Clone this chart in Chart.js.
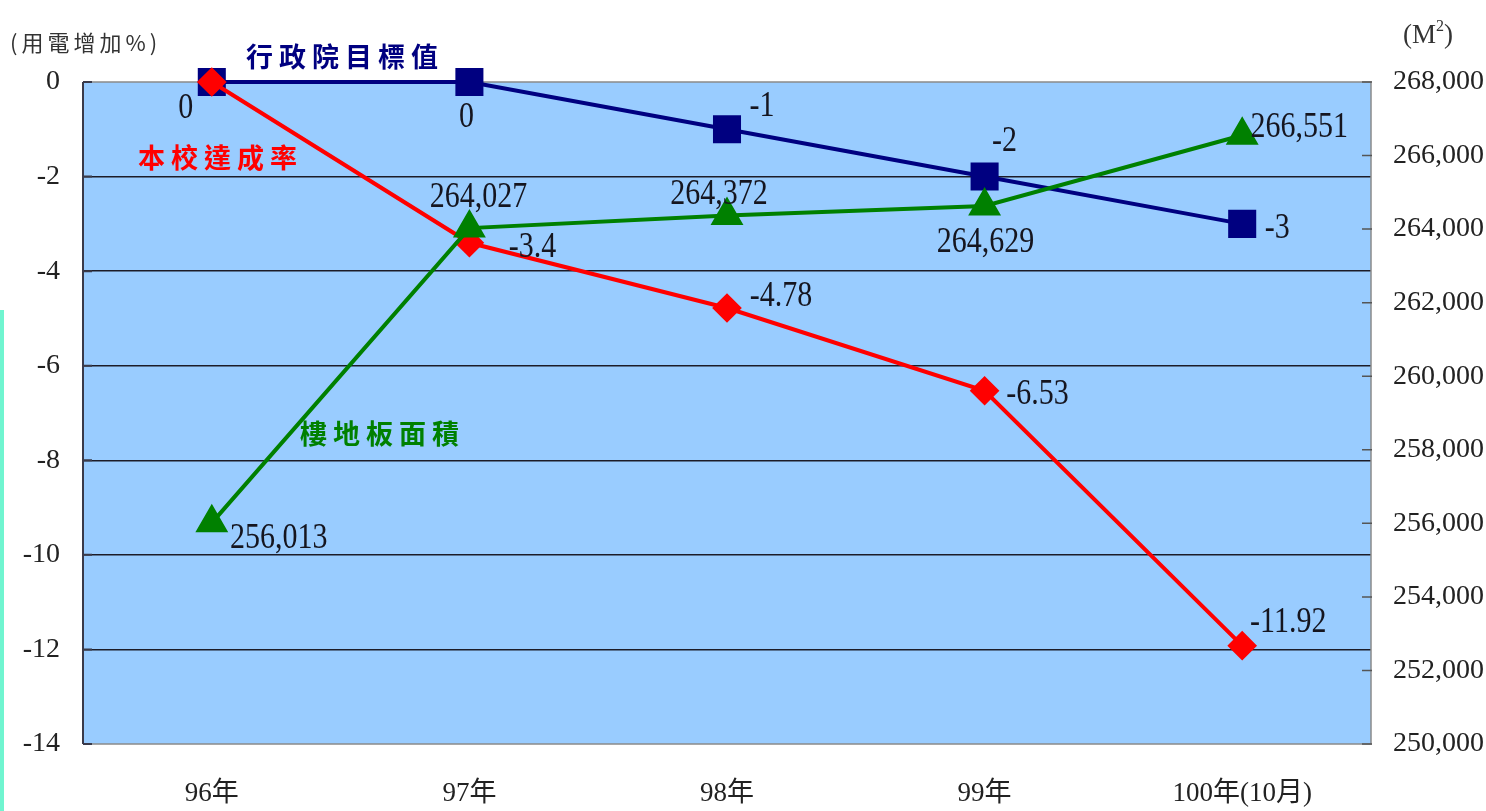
<!DOCTYPE html>
<html>
<head>
<meta charset="utf-8">
<script src="https://cdn.jsdelivr.net/npm/chart.js@4/dist/chart.umd.min.js"></script>
<style>
  html, body { margin: 0; padding: 0; background: #fff; }
  #wrap { position: relative; width: 1486px; height: 811px; }
</style>
</head>
<body>
<div id="wrap"><canvas id="electricChart"></canvas></div>
<script>
const categories = ["96年", "97年", "98年", "99年", "100年(10月)"];
const targetValues = [0, 0, -1, -2, -3];            // 行政院目標值
const schoolValues = [0, -3.4, -4.78, -6.53, -11.92]; // 本校達成率
const floorArea = [256013, 264027, 264372, 264629, 266551]; // 樓地板面積
const leftTicks = [0, -2, -4, -6, -8, -10, -12, -14];
const rightTicks = [250000, 252000, 254000, 256000, 258000, 260000, 262000, 264000, 266000, 268000];

// where each value label sits relative to its point (px)
const labelOffsets = {
  target: [[-26, 24], [-3, 33], [35, -25], [20, -38], [35, 2]],
  school: [null, [63, 2], [54, -14], [53, 1], [46, -26]],
  area: [[67, 13], [9, -33], [-8, -24], [1, 34], [57, -10]],
};

const serif = "'Liberation Serif', 'Noto Sans CJK TC', serif";
const cjk = "'Noto Sans CJK TC', sans-serif";

const formatNumber = (v) => v.toLocaleString("en-US");

const backgroundPlugin = {
  id: "plotBackground",
  beforeDraw(chart) {
    const { ctx, chartArea: a } = chart;
    ctx.save();
    ctx.fillStyle = "#99CCFF";
    ctx.fillRect(a.left, a.top, a.right - a.left, a.bottom - a.top);
    // aqua strip at the far left edge
    ctx.fillStyle = "#70F5D0";
    ctx.fillRect(0, 310, 4, chart.height - 310);
    ctx.restore();
  },
  beforeDatasetsDraw(chart) {
    const { ctx, chartArea: a, scales } = chart;
    ctx.save();
    ctx.strokeStyle = "#8a8a8a";
    ctx.lineWidth = 1.5;
    ctx.beginPath();
    ctx.moveTo(a.left, a.top);
    ctx.lineTo(a.right, a.top);
    ctx.lineTo(a.right, a.bottom);
    ctx.lineTo(a.left, a.bottom);
    ctx.stroke();
    ctx.strokeStyle = "#3a3a4a";
    ctx.lineWidth = 2;
    ctx.beginPath();
    ctx.moveTo(a.left, a.top);
    ctx.lineTo(a.left, a.bottom);
    // short inner tick marks on both value axes
    scales.y.ticks.forEach((t) => {
      const py = scales.y.getPixelForValue(t.value);
      ctx.moveTo(a.left, py);
      ctx.lineTo(a.left + 9, py);
    });
    ctx.stroke();
    ctx.strokeStyle = "#555";
    ctx.lineWidth = 1.5;
    ctx.beginPath();
    scales.yArea.ticks.forEach((t) => {
      const py = scales.yArea.getPixelForValue(t.value);
      ctx.moveTo(a.right - 9, py);
      ctx.lineTo(a.right + 1, py);
    });
    ctx.stroke();
    ctx.restore();
  },
};

const labelPlugin = {
  id: "valueLabels",
  afterDatasetsDraw(chart) {
    const { ctx } = chart;
    const keys = ["area", "school", "target"];
    ctx.save();
    ctx.fillStyle = "#15151f";
    ctx.font = "30px " + serif;
    ctx.textAlign = "center";
    ctx.textBaseline = "alphabetic";
    chart.data.datasets.forEach((ds, di) => {
      const meta = chart.getDatasetMeta(di);
      const offs = labelOffsets[keys[di]];
      meta.data.forEach((pt, i) => {
        if (!offs[i]) return;
        const text = di === 0 ? formatNumber(ds.data[i]) : String(ds.data[i]);
        ctx.save();
        ctx.translate(pt.x + offs[i][0], pt.y + offs[i][1]);
        ctx.scale(1, 1.22);
        ctx.fillText(text, 0, 10);
        ctx.restore();
      });
    });

    // series names written on the chart
    ctx.textAlign = "left";
    ctx.textBaseline = "middle";
    ctx.font = "bold 27px " + cjk;
    ctx.letterSpacing = "6px";
    ctx.fillStyle = "#000080";
    ctx.fillText("行政院目標值", 246, 57);
    ctx.fillStyle = "#FF0000";
    ctx.fillText("本校達成率", 138, 158);
    ctx.fillStyle = "#008000";
    ctx.fillText("樓地板面積", 300, 434);

    // axis unit captions
    ctx.fillStyle = "#333";
    ctx.font = "22px " + cjk;
    ctx.letterSpacing = "4px";
    ctx.fillText("(用電增加%)", 10, 43);
    ctx.letterSpacing = "0px";
    ctx.font = "27px " + serif;
    ctx.fillText("(M", 1403, 36);
    const mw = ctx.measureText("(M").width;
    ctx.font = "16px " + serif;
    ctx.fillText("2", 1403 + mw, 27);
    const sw = ctx.measureText("2").width;
    ctx.font = "27px " + serif;
    ctx.fillText(")", 1403 + mw + sw, 36);
    ctx.restore();
  },
};

new Chart(document.getElementById("electricChart").getContext("2d"), {
  type: "line",
  data: {
    labels: categories,
    datasets: [
      {
        label: "樓地板面積",
        data: floorArea,
        yAxisID: "yArea",
        borderColor: "#008000",
        backgroundColor: "#008000",
        borderWidth: 4,
        pointStyle: "triangle",
        pointRadius: 15,
        tension: 0,
        clip: false,
      },
      {
        label: "本校達成率",
        data: schoolValues,
        yAxisID: "y",
        borderColor: "#FF0000",
        backgroundColor: "#FF0000",
        borderWidth: 4,
        pointStyle: "rectRot",
        pointRadius: 12,
        tension: 0,
        clip: false,
      },
      {
        label: "行政院目標值",
        data: targetValues,
        yAxisID: "y",
        borderColor: "#000080",
        backgroundColor: "#000080",
        borderWidth: 4,
        pointStyle: "rect",
        pointRadius: 17,
        tension: 0,
        clip: false,
      },
    ],
  },
  options: {
    responsive: true,
    maintainAspectRatio: false,
    animation: false,
    events: [],
    layout: { padding: { top: 82, left: 0, right: 0, bottom: 0 } },
    plugins: {
      legend: { display: false },
      tooltip: { enabled: false },
    },
    scales: {
      x: {
        offset: true,
        grid: { display: false, drawTicks: false },
        border: { display: false },
        ticks: {
          color: "#222",
          font: { family: serif, size: 27 },
          padding: 34,
          maxRotation: 0,
        },
        afterFit: (scale) => { scale.height = 67; },
      },
      y: {
        position: "left",
        min: Math.min(...leftTicks),
        max: Math.max(...leftTicks),
        afterBuildTicks: (scale) => { scale.ticks = leftTicks.map((v) => ({ value: v })); },
        grid: {
          drawTicks: false,
          lineWidth: 1.5,
          color: (c) => (c.tick && (c.tick.value === 0 || c.tick.value === -14) ? "rgba(0,0,0,0)" : "#1c1c28"),
        },
        border: { display: false },
        ticks: {
          color: "#222",
          font: { family: serif, size: 28 },
          padding: 23,
        },
        afterFit: (scale) => { scale.width = 83; },
      },
      yArea: {
        position: "right",
        min: Math.min(...rightTicks),
        max: Math.max(...rightTicks),
        afterBuildTicks: (scale) => { scale.ticks = rightTicks.map((v) => ({ value: v })); },
        grid: { drawOnChartArea: false, drawTicks: false },
        border: { display: false },
        ticks: {
          color: "#222",
          font: { family: serif, size: 28 },
          padding: 22,
          callback: (v) => formatNumber(v),
        },
        afterFit: (scale) => { scale.width = 115; },
      },
    },
  },
  plugins: [backgroundPlugin, labelPlugin],
});
</script>
</body>
</html>
